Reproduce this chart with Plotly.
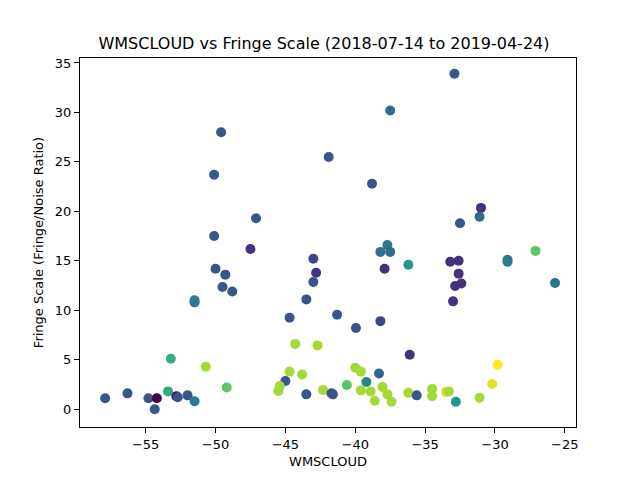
import plotly.graph_objs as go

# WMSCLOUD values (x), fringe scale (y), colour value along viridis (time order)
wmscloud = [
    -49.6, -41.9, -50.1, -47.1, -50.1, -47.5, -43.0, -42.8, -43.0, -43.5,
    -44.7, -50.0, -49.3, -49.5, -48.8, -51.5, -51.5, -53.2, -50.7, -49.2,
    -44.3, -42.7, -44.7, -43.8, -45.0, -45.4, -45.5, -43.5, -42.3, -41.7,
    -57.9, -56.3, -54.8, -54.2, -54.35, -53.4, -52.8, -52.7, -52.0, -51.5,
    -32.9, -37.5, -38.8, -31.0, -31.1, -32.5, -37.7, -38.2, -37.5, -37.9,
    -36.2, -33.2, -32.6, -32.6, -32.85, -32.4, -33.0, -29.1, -29.1, -27.1,
    -25.7, -41.3, -39.95, -38.2, -36.1, -40.0, -39.6, -38.3, -39.2, -40.6,
    -41.6, -39.6, -38.9, -38.05, -37.7, -38.6, -37.4, -36.2, -35.6, -34.5,
    -34.5, -33.5, -33.3, -32.8, -31.1, -30.2, -29.8,
]
fringe = [
    28.0, 25.5, 23.7, 19.3, 17.5, 16.2, 15.2, 13.8, 12.85, 11.1,
    9.25, 14.2, 13.6, 12.35, 11.9, 10.8, 11.0, 5.1, 4.3, 2.2,
    6.6, 6.45, 3.8, 3.5, 2.85, 2.35, 1.85, 1.5, 1.95, 1.6,
    1.1, 1.6, 1.1, 1.1, 0.0, 1.8, 1.3, 1.2, 1.4, 0.8,
    33.9, 30.2, 22.8, 20.35, 19.45, 18.8, 16.6, 15.9, 15.9, 14.2,
    14.6, 14.9, 15.0, 13.7, 12.45, 12.7, 10.9, 15.1, 14.9, 16.0,
    12.75, 9.55, 8.2, 8.9, 5.5, 4.2, 3.8, 3.6, 2.75, 2.45,
    1.5, 1.9, 1.8, 2.25, 1.5, 0.85, 0.75, 1.65, 1.4, 2.05,
    1.3, 1.75, 1.8, 0.75, 1.15, 2.55, 4.5,
]
order = [
    0.27, 0.27, 0.27, 0.27, 0.27, 0.14, 0.22, 0.15, 0.27, 0.27,
    0.27, 0.27, 0.27, 0.27, 0.27, 0.40, 0.42, 0.64, 0.86, 0.74,
    0.86, 0.86, 0.86, 0.86, 0.27, 0.86, 0.86, 0.27, 0.86, 0.27,
    0.27, 0.27, 0.27, 0.0, 0.27, 0.62, 0.0, 0.27, 0.27, 0.42,
    0.27, 0.34, 0.27, 0.14, 0.34, 0.27, 0.40, 0.36, 0.36, 0.14,
    0.53, 0.14, 0.14, 0.14, 0.14, 0.14, 0.14, 0.42, 0.42, 0.74,
    0.38, 0.27, 0.27, 0.22, 0.14, 0.86, 0.86, 0.32, 0.46, 0.74,
    0.27, 0.86, 0.86, 0.86, 0.86, 0.86, 0.86, 0.86, 0.27, 0.86,
    0.86, 0.95, 0.86, 0.52, 0.86, 0.95, 1.0,
]


def main():
    fig = go.Figure(go.Scatter(
        x=wmscloud, y=fringe, mode='markers',
        marker=dict(color=order, colorscale='Viridis', cmin=0, cmax=1,
                    size=10, line=dict(width=0)),
        showlegend=False,
    ))

    axis_style = dict(
        showline=True, linecolor='black', linewidth=1, mirror=True,
        ticks='outside', ticklen=5, tickcolor='black',
        showgrid=False, zeroline=False,
        tickfont=dict(size=13, color='black'),
    )
    fig.update_xaxes(range=[-59.7, -24.2], tickvals=[-55, -50, -45, -40, -35, -30, -25],
                     title=dict(text='WMSCLOUD', font=dict(size=13), standoff=6),
                     **axis_style)
    fig.update_yaxes(range=[-1.8, 35.5], tickvals=[0, 5, 10, 15, 20, 25, 30, 35],
                     title=dict(text='Fringe Scale (Fringe/Noise Ratio)', font=dict(size=13), standoff=8),
                     **axis_style)

    # page body has an 8px margin, so the figure is shrunk to fit the window
    fig.update_layout(
        width=632, height=472,
        margin=dict(l=72, r=64, t=50, b=53),
        paper_bgcolor='white', plot_bgcolor='white',
        font=dict(family='DejaVu Sans', size=13, color='black'),
        title=dict(text='WMSCLOUD vs Fringe Scale (2018-07-14 to 2019-04-24)',
                   x=0.5, xanchor='center', y=0.926, yanchor='middle',
                   font=dict(size=16, color='black')),
    )

    fig.write_html("out.html")


if __name__ == "__main__":
    main()
